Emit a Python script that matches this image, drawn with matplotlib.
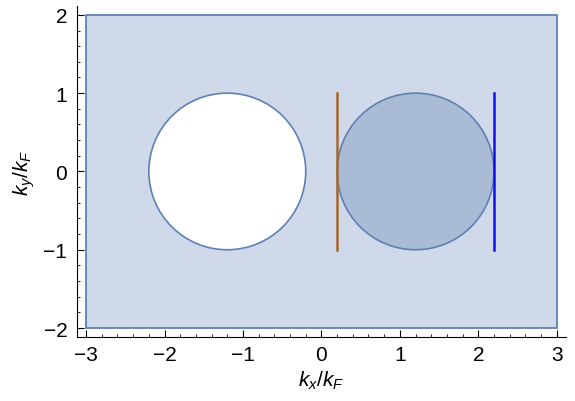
import numpy as np
import matplotlib.pyplot as plt
from matplotlib.patches import Rectangle, Circle
from matplotlib.ticker import MultipleLocator

plt.rcParams['font.family'] = ['Liberation Sans', 'DejaVu Sans']
plt.rcParams['mathtext.fontset'] = 'custom'
plt.rcParams['mathtext.it'] = 'Liberation Sans:italic'
plt.rcParams['mathtext.rm'] = 'Liberation Sans'

# region and shapes (k / k_F units)
box_x = [-3, 3]
box_y = [-2, 2]
hole_center = (-1.2, 0)
disk_center = (1.2, 0)
radius = 1.0
brown_x = 0.2
blue_x = 2.2
line_y = [-1, 1]

edge = '#5e81b5'
fill = '#cfd9e9'

fig = plt.figure(figsize=(5.75, 4.02), dpi=100)
ax = fig.add_axes([0.134, 0.159, 0.85, 0.824])

ax.add_patch(Rectangle((box_x[0], box_y[0]), box_x[1] - box_x[0], box_y[1] - box_y[0],
                       facecolor=fill, edgecolor=edge, lw=1.3, zorder=1))
ax.add_patch(Circle(hole_center, radius, facecolor='white', edgecolor=edge, lw=1.2, zorder=2))
ax.add_patch(Circle(disk_center, radius, facecolor='#aabbd6', edgecolor=edge, lw=1.2, zorder=2))

ax.plot([brown_x, brown_x], line_y, color='#a5662c', lw=1.8, zorder=3)
ax.plot([blue_x, blue_x], line_y, color='#1010f0', lw=1.8, zorder=3)

ax.set_xlim(-3.115, 3.115)
ax.set_ylim(-2.115, 2.115)
ax.spines['top'].set_visible(False)
ax.spines['right'].set_visible(False)
ax.xaxis.set_major_locator(MultipleLocator(1))
ax.xaxis.set_minor_locator(MultipleLocator(0.2))
ax.yaxis.set_major_locator(MultipleLocator(1))
ax.yaxis.set_minor_locator(MultipleLocator(0.2))
ax.tick_params(which='both', direction='in', labelsize=15)
ax.tick_params(which='major', length=5)
ax.tick_params(which='minor', length=2.5)
ax.tick_params(axis='x', pad=6)
ax.tick_params(axis='y', pad=7)
ax.set_xticks([-3, -2, -1, 0, 1, 2, 3])
ax.set_xticklabels(['\u22123', '\u22122', '\u22121', '0', '1', '2', '3'])
ax.set_yticks([-2, -1, 0, 1, 2])
ax.set_yticklabels(['\u22122', '\u22121', '0', '1', '2'])

ax.set_xlabel('$k_x/k_F$', fontsize=15, labelpad=3)
ax.set_ylabel('$k_y/k_F$', fontsize=15, labelpad=5)

fig.savefig('out.png', dpi=100)
